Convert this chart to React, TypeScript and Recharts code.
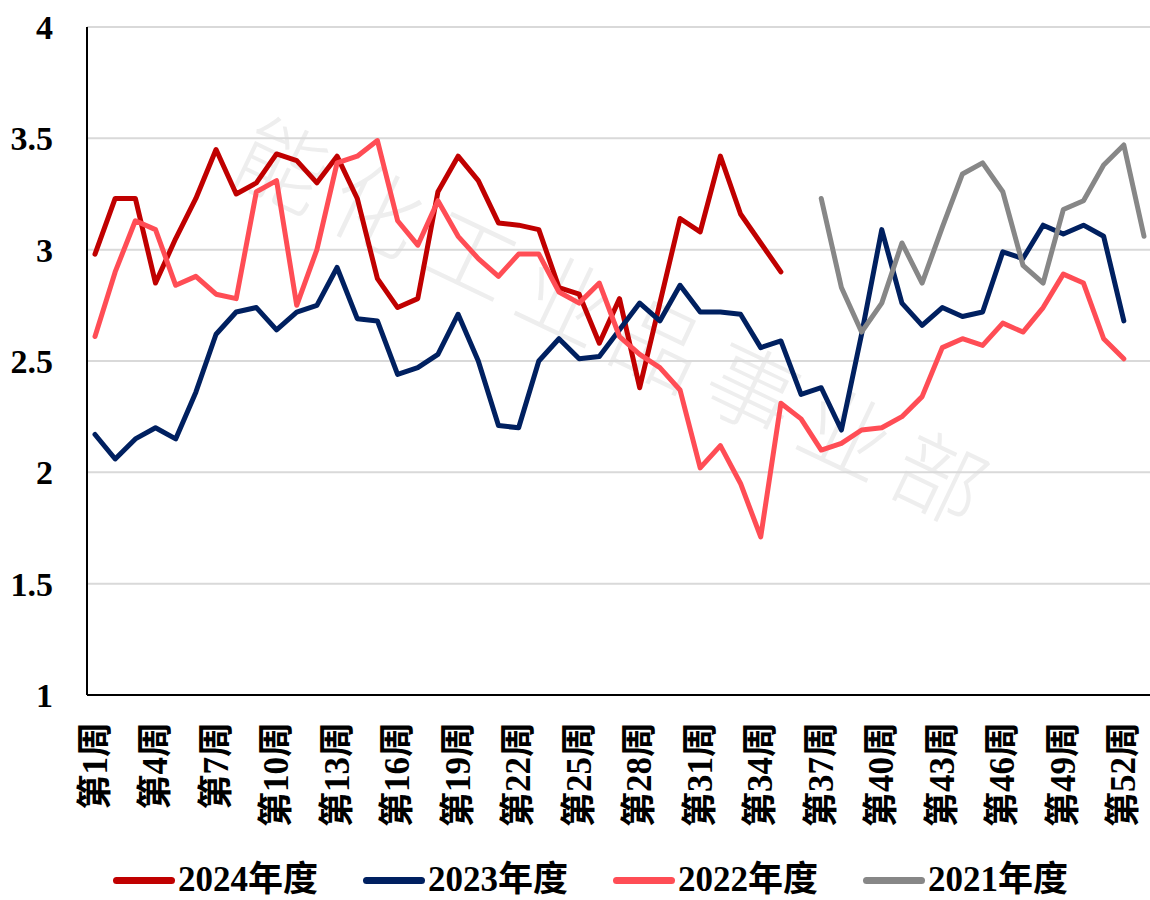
import React from "react";
import {
  LineChart,
  Line,
  XAxis,
  YAxis,
  CartesianGrid,
  Legend,
} from "recharts";

// 周次（2021年度有第53周）
const weeks = Array.from({ length: 53 }, (_, i) => `第${i + 1}周`);

// 第1周起
const y2024 = [
  2.98, 3.23, 3.23, 2.85, 3.05, 3.23, 3.45, 3.25, 3.3, 3.43, 3.4, 3.3, 3.42,
  3.23, 2.87, 2.74, 2.78, 3.26, 3.42, 3.31, 3.12, 3.11, 3.09, 2.83, 2.8, 2.58,
  2.78, 2.38, 2.76, 3.14, 3.08, 3.42, 3.16, 3.03, 2.9,
];
const y2023 = [
  2.17, 2.06, 2.15, 2.2, 2.15, 2.36, 2.62, 2.72, 2.74, 2.64, 2.72, 2.75, 2.92,
  2.69, 2.68, 2.44, 2.47, 2.53, 2.71, 2.5, 2.21, 2.2, 2.5, 2.6, 2.51, 2.52,
  2.64, 2.76, 2.68, 2.84, 2.72, 2.72, 2.71, 2.56, 2.59, 2.35, 2.38, 2.19, 2.62,
  3.09, 2.76, 2.66, 2.74, 2.7, 2.72, 2.99, 2.96, 3.11, 3.07, 3.11, 3.06, 2.68,
];
const y2022 = [
  2.61, 2.9, 3.13, 3.09, 2.84, 2.88, 2.8, 2.78, 3.26, 3.31, 2.75, 3.0, 3.39,
  3.42, 3.49, 3.13, 3.02, 3.22, 3.06, 2.96, 2.88, 2.98, 2.98, 2.81, 2.76, 2.85,
  2.61, 2.53, 2.47, 2.37, 2.02, 2.12, 1.95, 1.71, 2.31, 2.24, 2.1, 2.13, 2.19,
  2.2, 2.25, 2.34, 2.56, 2.6, 2.57, 2.67, 2.63, 2.74, 2.89, 2.85, 2.6, 2.51,
];
// 第37周起
const y2021Start = 37;
const y2021 = [
  3.23, 2.83, 2.63, 2.76, 3.03, 2.85, 3.1, 3.34, 3.39, 3.26, 2.93, 2.85, 3.18,
  3.22, 3.38, 3.47, 3.06,
];

const yTicks = [1, 1.5, 2, 2.5, 3, 3.5, 4];

const series = [
  { key: "s2024", name: "2024年度", color: "#C00000" },
  { key: "s2023", name: "2023年度", color: "#002060" },
  { key: "s2022", name: "2022年度", color: "#FF4D55" },
  { key: "s2021", name: "2021年度", color: "#878787" },
];

const data = weeks.map((week, i) => ({
  week,
  s2024: y2024[i] ?? null,
  s2023: y2023[i] ?? null,
  s2022: y2022[i] ?? null,
  s2021: y2021[i - (y2021Start - 1)] ?? null,
}));

const font = '"Liberation Serif", "Times New Roman", "Noto Sans CJK SC", serif';

const WeekTick = ({ x, y, payload }: any) => {
  const ty = y + 27;
  return (
    <text
      x={x}
      y={ty}
      transform={`rotate(-90 ${x} ${ty})`}
      textAnchor="end"
      dominantBaseline="central"
      fontFamily={font}
      fontWeight="bold"
      fontSize={35}
      fill="#000"
    >
      {payload.value}
    </text>
  );
};

const LegendBox = () => (
  <div style={{ display: "flex", paddingLeft: 113, height: 40, alignItems: "center" }}>
    {series.map((s) => (
      <div key={s.key} style={{ width: 250, display: "flex", alignItems: "center" }}>
        <div
          style={{
            width: 62,
            height: 7,
            borderRadius: 4,
            background: s.color,
            marginRight: 3,
          }}
        />
        <span
          style={{
            fontFamily: font,
            fontWeight: "bold",
            fontSize: 35,
            color: "#000",
            lineHeight: "40px",
          }}
        >
          {s.name}
        </span>
      </div>
    ))}
  </div>
);

export default function App() {
  return (
    <div
      style={{
        position: "absolute",
        left: 0,
        top: 0,
        width: 1150,
        height: 900,
        overflow: "hidden",
        background: "#fff",
      }}
    >
      {/* 水印 */}
      <div
        style={{
          position: "absolute",
          left: 620,
          top: 320,
          transform: "translate(-50%, -50%) rotate(25.5deg)",
          whiteSpace: "nowrap",
          fontFamily: '"Noto Sans CJK SC", sans-serif',
          fontWeight: 300,
          fontSize: 90,
          letterSpacing: 14,
          color: "#EEEEEE",
          zIndex: 0,
        }}
      >
        能化工业品事业部
      </div>
      <div style={{ position: "relative", zIndex: 1 }}>
        <LineChart
          width={1160}
          height={900}
          data={data}
          margin={{ top: 27, right: 6, left: 0, bottom: 0 }}
        >
          <CartesianGrid vertical={false} stroke="#D9D9D9" strokeWidth={2} />
          <XAxis
            dataKey="week"
            interval={2}
            height={165}
            padding={{ left: 8, right: 10 }}
            axisLine={{ stroke: "#000", strokeWidth: 2 }}
            tickLine={false}
            tickSize={0}
            tickMargin={0}
            tick={<WeekTick />}
          />
          <YAxis
            width={87}
            domain={[1, 4]}
            ticks={yTicks}
            interval={0}
            axisLine={{ stroke: "#000", strokeWidth: 2 }}
            tickLine={false}
            tickSize={0}
            tickMargin={34}
            tick={{
              fontFamily: font,
              fontWeight: "bold",
              fontSize: 34,
              fill: "#000",
            }}
          />
          <Legend
            verticalAlign="bottom"
            content={<LegendBox />}
            wrapperStyle={{ left: 0, width: 1150, bottom: 0, height: 40 }}
          />
          {series.map((s) => (
            <Line
              key={s.key}
              type="linear"
              dataKey={s.key}
              name={s.name}
              stroke={s.color}
              strokeWidth={5}
              strokeLinecap="round"
              strokeLinejoin="round"
              dot={false}
              activeDot={false}
              connectNulls={false}
              isAnimationActive={false}
            />
          ))}
        </LineChart>
      </div>
    </div>
  );
}
